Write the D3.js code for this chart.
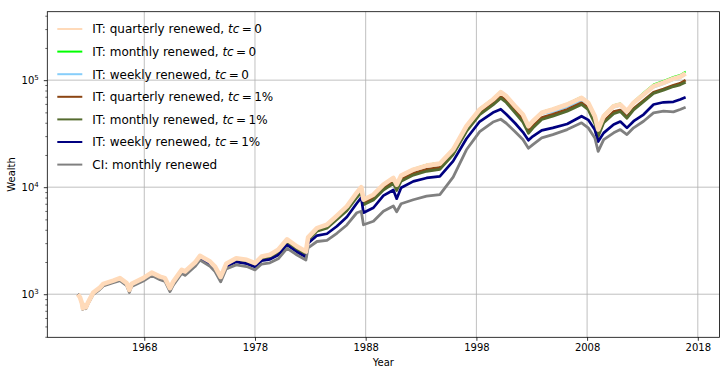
<!DOCTYPE html>
<html><head><meta charset="utf-8">
<script src="https://cdn.jsdelivr.net/npm/d3@7"></script>
<style>body{margin:0;background:#fff} svg{display:block} text{font-family:"DejaVu Sans",sans-serif}</style>
</head><body>
<script>
// ---- data ----
const dates = [1962.00,1962.19,1962.37,1962.44,1962.55,1962.73,1962.91,1963.39,1963.93,1964.30,1965.20,1965.80,1966.41,1966.65,1966.86,1967.91,1968.67,1969.42,1969.87,1970.32,1970.62,1971.38,1971.68,1972.58,1973.03,1973.94,1974.39,1974.90,1975.40,1976.30,1977.25,1978.00,1978.60,1979.35,1980.10,1980.90,1981.80,1982.60,1982.80,1983.60,1984.50,1985.40,1986.30,1987.20,1987.60,1987.80,1988.70,1989.60,1990.50,1990.80,1991.20,1992.30,1993.50,1994.70,1995.90,1997.10,1998.30,1999.50,2000.20,2000.70,2001.50,2002.20,2002.70,2003.10,2003.90,2004.90,2006.20,2007.50,2008.10,2008.70,2009.00,2009.50,2010.40,2011.00,2011.60,2012.20,2013.10,2014.00,2014.90,2015.80,2016.40,2016.90];

const itQuarterly0 = [1000,937,824,740,794,756,834,1035,1138,1249,1341,1412,1268,1097,1249,1412,1593,1461,1412,1138,1312,1689,1628,1976,2284,2019,1813,1452,1922,2164,2095,1951,2250,2334,2599,3260,2791,2505,3403,4150,4456,5410,6611,8880,10000,7638,8505,10554,12195,10554,12815,14582,15898,16598,22447,37101,53185,65962,77197,70830,57090,47730,37101,41310,49520,53185,59220,68420,61430,46010,34540,46010,57090,59220,51250,61430,73470,87850,94560,103070,107600,115550];

const itMonthly0 = [1000,947,833,748,803,764,843,1046,1150,1263,1356,1427,1282,1109,1263,1427,1610,1477,1427,1150,1326,1707,1646,1997,2309,2041,1833,1468,1943,2187,2118,1972,2274,2359,2627,3295,2821,2532,3440,4195,4504,5469,6683,8976,10108,7721,8597,10669,12461,10784,13094,14900,16245,16960,22937,37910,54345,67400,78880,72374,58335,48771,37910,42211,50600,54345,60511,69912,62769,47013,35293,47317,58711,60902,52706,63175,76542,91523,98514,107379,112099,120381];

const itWeekly0 = [1000,917,806,724,777,740,816,1013,1114,1222,1312,1382,1241,1074,1222,1382,1559,1430,1382,1114,1284,1653,1593,1934,2235,1976,1774,1421,1881,2118,2050,1909,2202,2284,2544,3190,2731,2452,3330,4062,4361,5295,6470,8690,9787,7475,8324,10329,11807,10218,12407,14118,15392,16070,21733,35920,51492,63862,74740,68576,55273,46211,35920,39995,47944,50178,55872,64552,59474,44545,33441,44545,55273,57336,49619,59474,71132,85054,91550,99790,104176,111873];

const itQuarterly1 = [1000,937,824,740,792,754,832,1033,1133,1244,1335,1403,1260,1090,1241,1400,1579,1448,1397,1126,1298,1667,1607,1951,2250,1989,1782,1427,1885,2118,2046,1901,2188,2265,2516,3149,2691,2410,3266,3975,4250,5137,6237,8324,9354,7144,7938,9829,11333,9787,11884,13493,14679,15293,20816,34257,49003,60514,70516,64562,51925,43226,33600,37411,44750,47959,53172,61433,55156,41133,30879,41045,50710,52489,45328,54214,64561,76866,82558,89602,93339,100020];

const itMonthly1 = [1000,937,822,738,791,753,830,1028,1131,1238,1329,1397,1254,1085,1233,1394,1569,1439,1388,1119,1287,1657,1593,1934,2230,1967,1763,1412,1865,2082,2007,1865,2146,2221,2468,3089,2633,2358,3197,3873,4141,5006,6039,8007,8979,6858,7604,9415,10832,9314,11383,12981,14091,14648,20155,33169,47548,58717,67836,61840,49524,40610,31908,35681,42865,46037,51261,59224,53059,39146,29705,39998,48573,50930,44076,52831,62915,75229,80626,87128,90372,95801];

const itWeekly1 = [1000,931,817,732,785,746,823,1019,1119,1225,1312,1379,1236,1069,1214,1370,1542,1411,1361,1097,1262,1618,1559,1884,2174,1913,1710,1367,1802,2007,1930,1798,2055,2114,2324,2896,2479,2225,2990,3531,3671,4314,5271,7080,7973,5771,6426,8325,9415,7804,9894,11331,12195,12623,17518,28337,41061,49841,53505,48044,39569,32727,27435,29895,33954,35843,38890,46011,42577,34392,26667,32166,38475,41045,35829,41310,47729,59205,62098,62766,65950,69309];

const ciMonthly = [1000,925,806,721,772,732,807,998,1095,1196,1279,1341,1201,1037,1178,1326,1493,1364,1315,1058,1217,1560,1500,1813,2082,1821,1628,1304,1726,1881,1813,1689,1914,1965,2141,2685,2324,2086,2713,3109,3190,3709,4436,5769,5961,4455,4803,5960,6667,5896,7006,7634,8234,8504,12405,22350,33093,40605,43125,39568,32940,27839,23085,24993,28883,31020,34540,39906,35829,28815,21631,27837,32169,34540,31007,35829,41309,49501,51250,50584,53149,55857];

const xTickYears = [1968,1978,1988,1998,2008,2018];
const yMajorTicks = [1000,10000,100000];
const yTickExponents = ["3","4","5"];
const yMinorTicks = [400,500,600,700,800,900,2000,3000,4000,5000,6000,7000,8000,9000,20000,30000,40000,50000,60000,70000,80000,90000,200000,300000,400000];
const xDomain = [1959.24, 2019.96];
const yDomain = [395.8, 436000];

const seriesNames = ["IT: quarterly renewed, ","IT: monthly renewed, ","IT: weekly renewed, ","IT: quarterly renewed, ","IT: monthly renewed, ","IT: weekly renewed, ","CI: monthly renewed"];
const seriesTc = ["0","0","0","1%","1%","1%",null];
const seriesValues = [itQuarterly0,itMonthly0,itWeekly0,itQuarterly1,itMonthly1,itWeekly1,ciMonthly];
const seriesColors = ["#ffdab9","#00ff00","#87cefa","#8b4513","#556b2f","#000080","#808080"];
const seriesWidths = [4.6,1.6,1.6,2.8,2.8,2.7,2.8];
const drawOrder = [1,2,3,4,5,6,0];

// ---- layout ----
const W=727,H=375, L=47.3, R=719.5, T=11.7, B=337.3;
const svg=d3.select('body').append('svg').attr('width',W).attr('height',H);
svg.append('rect').attr('width',W).attr('height',H).attr('fill','#fff');
const x=d3.scaleLinear().domain(xDomain).range([L,R]);
const y=d3.scaleLog().domain(yDomain).range([B,T]);

svg.append('clipPath').attr('id','clip').append('rect').attr('x',L).attr('y',T).attr('width',R-L).attr('height',B-T);

// grid
const grid=svg.append('g').attr('stroke','#b0b0b0').attr('stroke-width',0.8);
grid.selectAll('line.v').data(xTickYears).join('line').attr('class','v')
  .attr('x1',d=>x(d)).attr('x2',d=>x(d)).attr('y1',T).attr('y2',B);
grid.selectAll('line.h').data(yMajorTicks).join('line').attr('class','h')
  .attr('y1',d=>y(d)).attr('y2',d=>y(d)).attr('x1',L).attr('x2',R);

// lines
const line=d3.line().x((d,i)=>x(dates[i])).y(d=>y(d));
const lg=svg.append('g').attr('clip-path','url(#clip)');
drawOrder.forEach(k=>{
  lg.append('path').datum(seriesValues[k]).attr('d',line)
    .attr('fill','none').attr('stroke',seriesColors[k]).attr('stroke-width',seriesWidths[k])
    .attr('stroke-linejoin','round');
});

// axes
const xAxis=d3.axisBottom(x).tickValues(xTickYears).tickFormat(d3.format('d')).tickSizeInner(3.5).tickSizeOuter(0).tickPadding(3.5);
svg.append('g').attr('transform',`translate(0,${B})`).call(xAxis).call(a=>{
  a.select('.domain').remove();
  a.attr('font-family','DejaVu Sans').attr('font-size',10);
  a.selectAll('text').attr('fill','#000');
  a.selectAll('line').attr('stroke','#000').attr('stroke-width',0.8);
});
const yAxis=d3.axisLeft(y).tickValues(yMajorTicks).tickFormat(()=> '').tickSizeInner(3.5).tickSizeOuter(0);
svg.append('g').attr('transform',`translate(${L},0)`).call(yAxis).call(a=>{
  a.select('.domain').remove();
  a.selectAll('line').attr('stroke','#000').attr('stroke-width',0.8);
});
const yMinor=d3.axisLeft(y).tickValues(yMinorTicks).tickFormat(()=> '').tickSizeInner(2).tickSizeOuter(0);
svg.append('g').attr('transform',`translate(${L},0)`).call(yMinor).call(a=>{
  a.select('.domain').remove();
  a.selectAll('line').attr('stroke','#000').attr('stroke-width',0.6);
});
// y tick labels 10^n
yMajorTicks.forEach((v,i)=>{
  const t=svg.append('text').attr('x',L-8.5).attr('y',y(v)+3.7).attr('text-anchor','end')
    .attr('font-size',10).attr('fill','#000');
  t.append('tspan').text('10');
  t.append('tspan').attr('font-size',7).attr('dy',-4.2).text(yTickExponents[i]);
});

// spines
svg.append('rect').attr('x',L).attr('y',T).attr('width',R-L).attr('height',B-T)
  .attr('fill','none').attr('stroke','#000').attr('stroke-width',0.8);

// axis labels
svg.append('text').attr('x',(L+R)/2).attr('y',366).attr('text-anchor','middle').attr('font-size',10).attr('fill','#000').text('Year');
svg.append('text').attr('transform',`translate(15.3,${(T+B)/2}) rotate(-90)`).attr('text-anchor','middle').attr('font-size',10).attr('fill','#000').text('Wealth');

// legend
const legY0=29, legStep=22.6;
seriesNames.forEach((name,i)=>{
  const yy=legY0+i*legStep;
  svg.append('line').attr('x1',57.3).attr('x2',82.3).attr('y1',yy).attr('y2',yy)
    .attr('stroke',seriesColors[i]).attr('stroke-width',2);
  const t=svg.append('text').attr('x',92.3).attr('y',yy+4.4).attr('font-size',12).attr('fill','#000');
  t.append('tspan').text(name);
  if(seriesTc[i]!==null){
    t.append('tspan').attr('font-style','italic').text('tc');
    t.append('tspan').text('\u2009=\u2009'+seriesTc[i]);
  }
});
</script>
</body></html>
